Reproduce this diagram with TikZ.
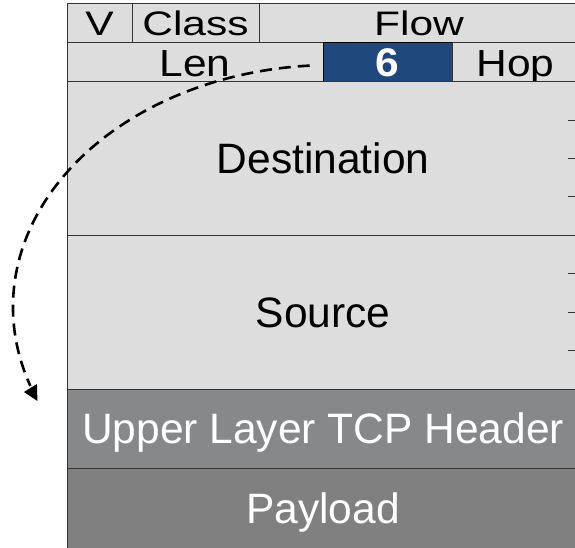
\documentclass[tikz,border=0pt]{standalone}
\usepackage{fontspec}
\setmainfont{Liberation Sans}
\usepackage{graphicx}
\usetikzlibrary{calc}
\definecolor{cellgray}{HTML}{DDDDDD}
\definecolor{upperfill}{HTML}{87888A}
\definecolor{payloadfill}{HTML}{808080}
\definecolor{hopblue}{HTML}{1F497D}
\definecolor{rulegray}{HTML}{333333}
% vertically squeezed label text
\newcommand\squeezed[2]{\scalebox{1}[#1]{#2}}
\begin{document}
\begin{tikzpicture}[x=1pt,y=1pt,
  cell/.style 2 args={draw=rulegray, line width=1pt, fill=cellgray,
    anchor=north west, inner sep=0pt, outer sep=0pt,
    minimum width=#1pt, minimum height=#2pt},
  bigfont/.style={font=\fontsize{42.5}{50}\selectfont, text depth=0pt},
  rowone/.style={bigfont, text height=24.4pt},
  rowtwo/.style={bigfont, text height=27.1pt},
  bodytext/.style={bigfont, text height=30.4pt},
  tickmark/.style={draw=rulegray, line width=1pt},
  jump/.style={draw=black, line width=2.6pt, dash pattern=on 12pt off 7pt},
  jumphead/.style={fill=black}
]
\useasboundingbox (0,0) rectangle (575,547);
\clip (0,0) rectangle (575,547);

% first header row
\node[cell={65}{39}, rowone] (ver) at (67,543) {\squeezed{0.8}{V}};
\node[cell={127}{39}, rowone] (cls) at (132,543) {\squeezed{0.8}{Class}};
\node[cell={320}{39}, rowone] (flow) at (259,543) {\squeezed{0.8}{Flow}};

% second header row
\node[cell={256}{39}, rowtwo] (len) at (67,504) {\squeezed{0.89}{Len}};
\node[cell={129}{39}, draw=black, fill=hopblue, text=white, bigfont,
  text height=28.6pt] (six) at (323,504) {\squeezed{0.94}{\bfseries 6}};
\node[cell={127}{39}, rowtwo] (hop) at (452,504) {\squeezed{0.89}{Hop}};

% addresses
\node[cell={512}{153}, bodytext] (dest) at (67,465) {Destination};
\node[cell={512}{154}, bodytext] (src) at (67,312) {Source};

% upper layers
\node[cell={512}{79}, bodytext, fill=upperfill, text=white] (upper) at (67,158) {Upper Layer TCP Header};
\node[cell={512}{81}, bodytext, fill=payloadfill, text=white] (payload) at (67,79) {Payload};

% word ticks on the address fields
\foreach \f in {0.25,0.5,0.75}{
  \draw[tickmark] ($(dest.north east)!\f!(dest.south east)$) -- ++(-11,0);
  \draw[tickmark] ($(src.north east)!\f!(src.south east)$) -- ++(-11,0);
}

% dashed jump from the hop limit field, ending in a solid triangle
\coordinate (tail) at ($(six.west)+(-13.3,-3.1)$);
\draw[jump] (tail) arc[start angle=94, end angle=199, x radius=319pt, y radius=242pt]
  coordinate (head);
\fill[jumphead] ($(head)+(-6.4,-6.2)$) -- ($(head)+(6.6,1.8)$) -- ($(head)+(7.1,-15.2)$) -- cycle;
\end{tikzpicture}
\end{document}
